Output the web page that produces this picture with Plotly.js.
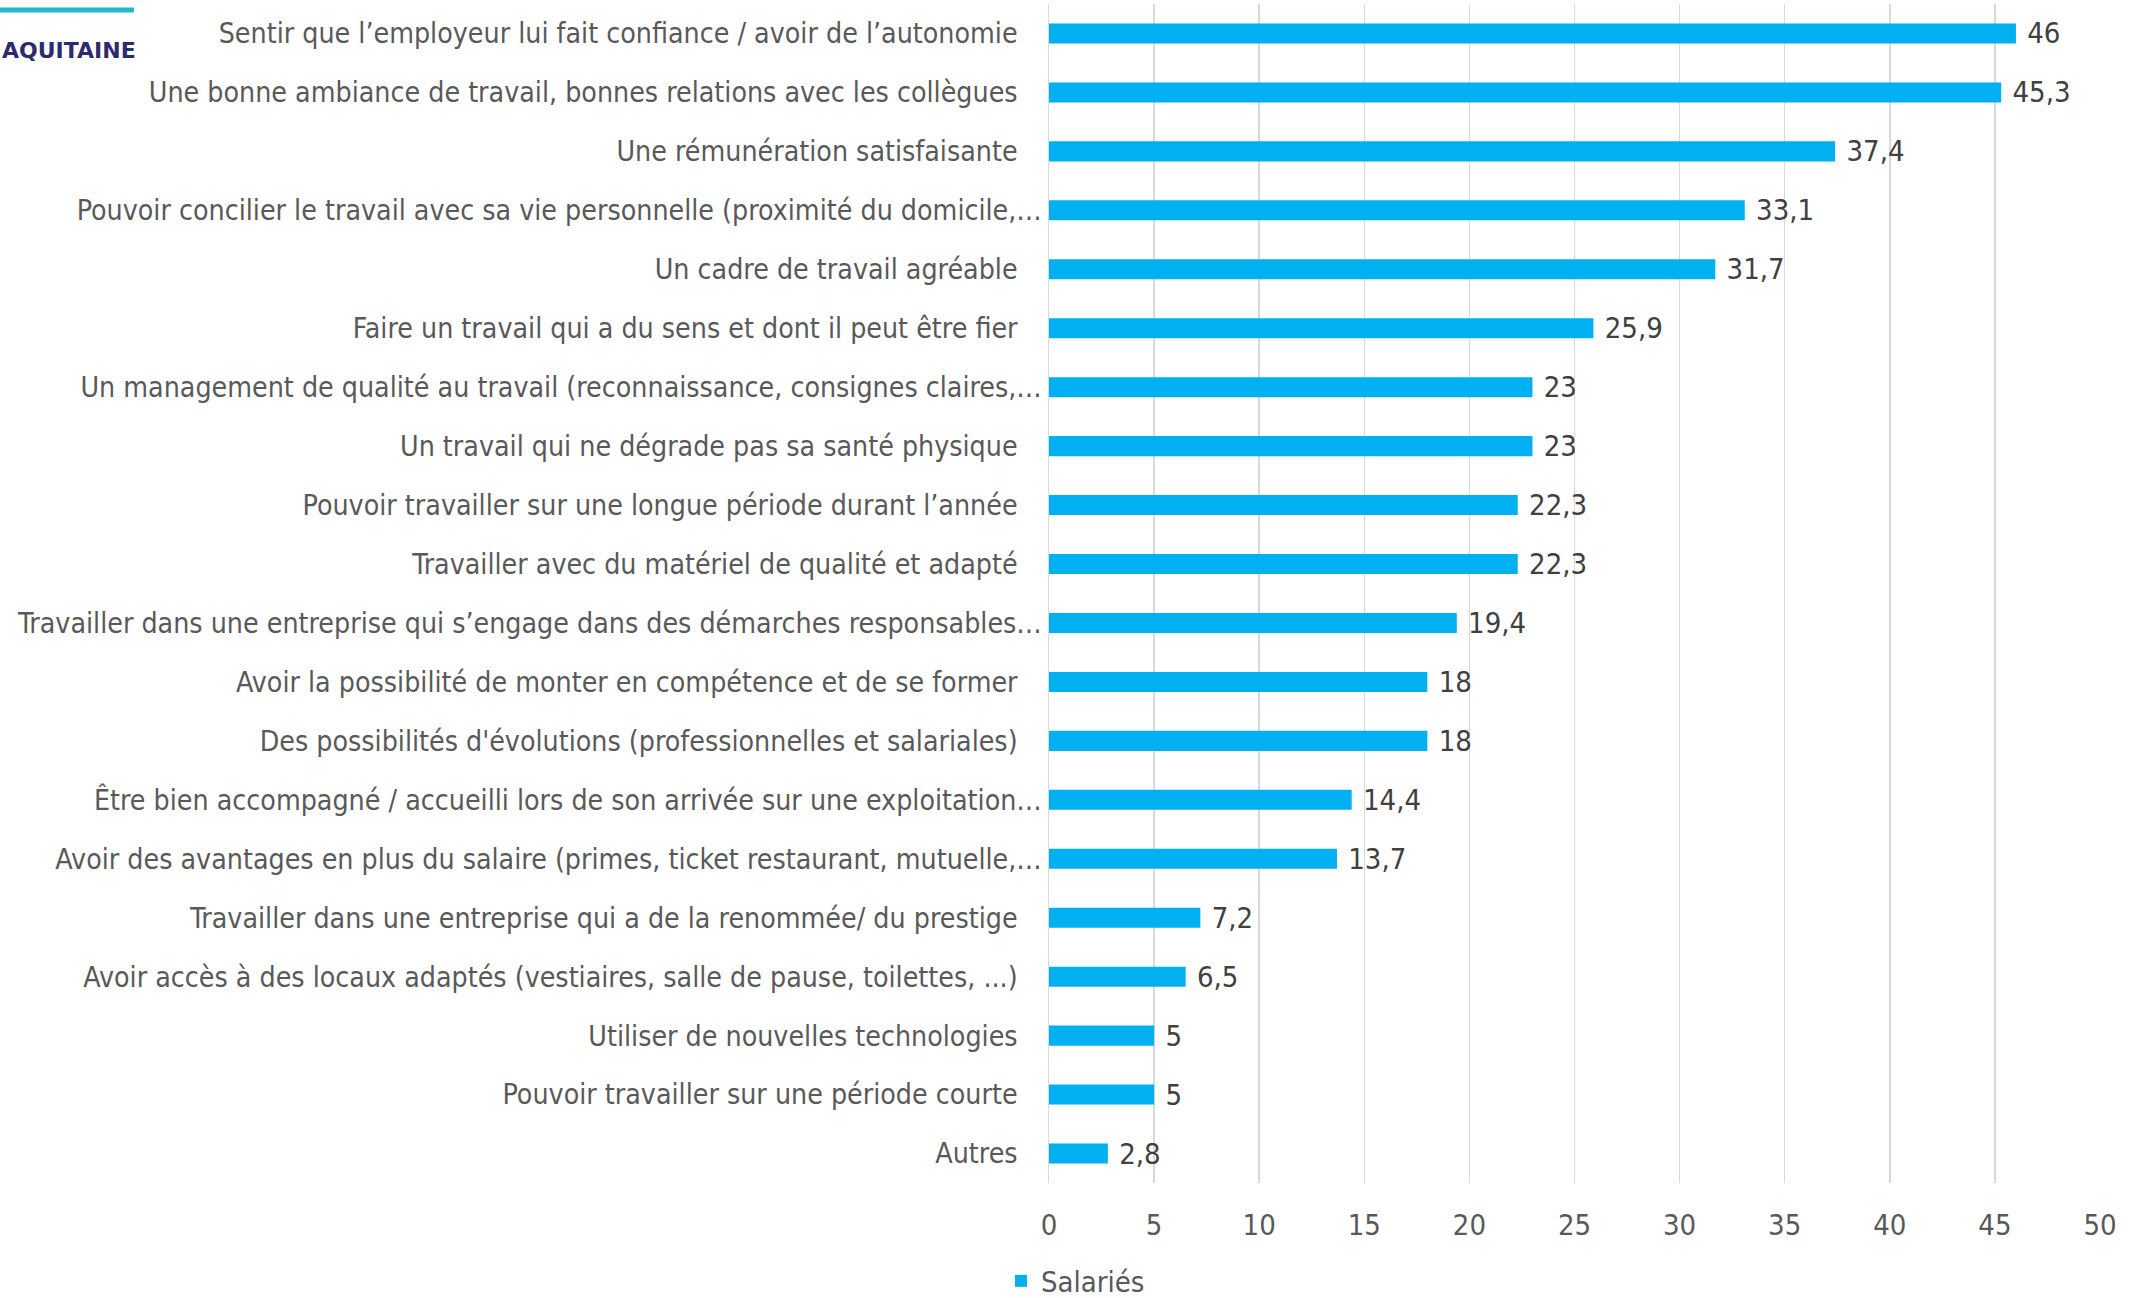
<!DOCTYPE html>
<html>
<head>
<meta charset="utf-8">
<script src="https://cdn.plot.ly/plotly-3.0.1.min.js"></script>
<style>
  html, body { margin: 0; padding: 0; background: #ffffff; }
  #chart { width: 2136px; height: 1298px; }
</style>
</head>
<body>
<div id="chart"></div>
<script>
const categories = [
  "Sentir que l’employeur lui fait confiance / avoir de l’autonomie",
  "Une bonne ambiance de travail, bonnes relations avec les collègues",
  "Une rémunération satisfaisante",
  "Pouvoir concilier le travail avec sa vie personnelle (proximité du domicile,…",
  "Un cadre de travail agréable",
  "Faire un travail qui a du sens et dont il peut être fier",
  "Un management de qualité au travail (reconnaissance, consignes claires,…",
  "Un travail qui ne dégrade pas sa santé physique",
  "Pouvoir travailler sur une longue période durant l’année",
  "Travailler avec du matériel de qualité et adapté",
  "Travailler dans une entreprise qui s’engage dans des démarches responsables…",
  "Avoir la possibilité de monter en compétence et de se former",
  "Des possibilités d'évolutions (professionnelles et salariales)",
  "Être bien accompagné / accueilli lors de son arrivée sur une exploitation…",
  "Avoir des avantages en plus du salaire (primes, ticket restaurant, mutuelle,…",
  "Travailler dans une entreprise qui a de la renommée/ du prestige",
  "Avoir accès à des locaux adaptés (vestiaires, salle de pause, toilettes, ...)",
  "Utiliser de nouvelles technologies",
  "Pouvoir travailler sur une période courte",
  "Autres"
];
const salaries = [46, 45.3, 37.4, 33.1, 31.7, 25.9, 23, 23, 22.3, 22.3, 19.4, 18, 18, 14.4, 13.7, 7.2, 6.5, 5, 5, 2.8];
const seriesName = "Salariés";
const xTicks = [0, 5, 10, 15, 20, 25, 30, 35, 40, 45, 50];
const regionLabel = "AQUITAINE";

const FONT = '"Liberation Sans Narrow", "Arial Narrow", "DejaVu Sans Condensed", sans-serif';

const tickText = categories.map(c => c.endsWith('…') ? c : c + '\u00a0\u00a0\u00a0');
const valueText = salaries.map(v => '\u00a0' + String(v).replace('.', ','));

const trace = {
  type: 'bar',
  orientation: 'h',
  name: seriesName,
  y: categories,
  x: salaries,
  marker: { color: '#00b0f0' },
  text: valueText,
  textposition: 'outside',
  constraintext: 'none',
  textfont: { family: FONT, size: 29, color: '#404040' },
  cliponaxis: false,
  hoverinfo: 'x+y'
};

const L = 1049, R = 36, T = 4, B = 115;
const H = 1298, plotW = 2136 - L - R, plotH = H - T - B;
const px = v => (v - L) / plotW;
const py = v => (H - B - v) / plotH;

const layout = {
  width: 2136,
  height: H,
  margin: { l: L, r: R, t: T, b: B, autoexpand: false },
  paper_bgcolor: '#ffffff',
  plot_bgcolor: '#ffffff',
  bargap: 0.66,
  showlegend: true,
  legend: {
    orientation: 'h',
    x: px(1001), xanchor: 'left',
    y: py(1281), yanchor: 'middle',
    font: { family: FONT, size: 29, color: '#595959' },
    itemwidth: 30
  },
  xaxis: {
    range: [0, 50],
    tickvals: xTicks,
    ticktext: xTicks.map(String),
    showgrid: true,
    gridcolor: '#d9d9d9',
    gridwidth: 1.5,
    zeroline: false,
    showline: false,
    ticks: '',
    ticklabelstandoff: 22,
    tickfont: { family: FONT, size: 29, color: '#595959' },
    fixedrange: true
  },
  yaxis: {
    type: 'category',
    autorange: 'reversed',
    tickvals: categories,
    ticktext: tickText,
    showgrid: false,
    zeroline: false,
    showline: true,
    linecolor: '#d9d9d9',
    linewidth: 1.5,
    ticks: '',
    ticklabelstandoff: 0,
    tickfont: { family: FONT, size: 28.3, color: '#595959' },
    fixedrange: true
  },
  shapes: [
    {
      type: 'line', xref: 'paper', yref: 'paper',
      x0: px(0), x1: px(134), y0: py(10), y1: py(10),
      line: { color: '#1fb8cc', width: 5 }
    }
  ],
  annotations: [
    {
      text: '<b>' + regionLabel + '</b>',
      xref: 'paper', yref: 'paper',
      x: px(0), xanchor: 'left',
      y: py(51), yanchor: 'middle',
      showarrow: false,
      font: { family: '"DejaVu Sans", sans-serif', size: 22, color: '#2e2a6e' }
    }
  ]
};

Plotly.newPlot('chart', [trace], layout, { displayModeBar: false, staticPlot: true });
</script>
</body>
</html>
